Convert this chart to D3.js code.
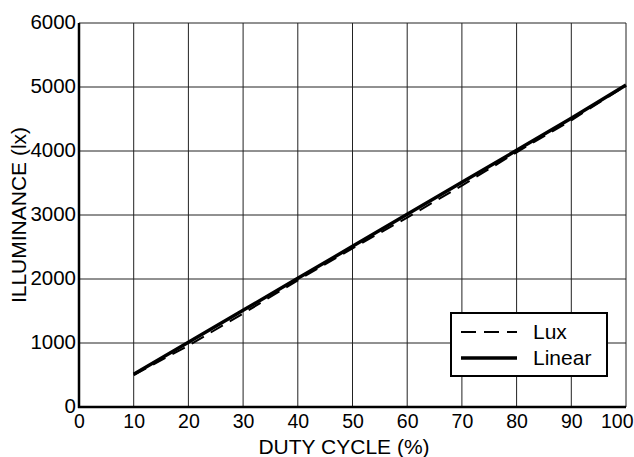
<!DOCTYPE html>
<html>
<head>
<meta charset="utf-8">
<script src="https://cdn.jsdelivr.net/npm/d3@7"></script>
<style>
  body { margin: 0; background: #fff; }
  text { font-family: "Liberation Sans", Arial, sans-serif; fill: #000; }
</style>
</head>
<body>
<script>
const dutyCycle = [10, 20, 30, 40, 50, 60, 70, 80, 90, 100]
const luxValues = [500, 960, 1460, 1980, 2480, 2960, 3460, 3980, 4480, 5020]
const linearValues = [510, 1010, 1510, 2010, 2510, 3010, 3510, 4010, 4510, 5030]
const xTicks = [0, 10, 20, 30, 40, 50, 60, 70, 80, 90, 100]
const yTicks = [0, 1000, 2000, 3000, 4000, 5000, 6000]

const margin = { top: 23, right: 8, bottom: 50, left: 79 }
const W = 634, H = 457
const width = W - margin.left - margin.right
const height = H - margin.top - margin.bottom

const svg = d3.select('body')
    .append('svg')
    .attr('width', W)
    .attr('height', H)
    .append('g')
    .attr('transform', `translate(${margin.left},${margin.top})`)

const x = d3.scaleLinear().domain([0, 100]).range([0, width])
const y = d3.scaleLinear().domain([0, 6000]).range([height, 0])

// grid
svg.append('g')
    .selectAll('line')
    .data(xTicks)
    .join('line')
    .attr('x1', d => x(d)).attr('x2', d => x(d))
    .attr('y1', 0).attr('y2', height)
    .attr('stroke', '#222').attr('stroke-width', 1)
svg.append('g')
    .selectAll('line')
    .data(yTicks)
    .join('line')
    .attr('x1', 0).attr('x2', width)
    .attr('y1', d => y(d)).attr('y2', d => y(d))
    .attr('stroke', '#222').attr('stroke-width', 1)

// axes (labels only, thick left/bottom lines)
const xAxis = svg.append('g')
    .attr('transform', `translate(0,${height})`)
    .call(d3.axisBottom(x).tickValues(xTicks).tickSize(0).tickPadding(7))
xAxis.select('.domain').remove()
xAxis.selectAll('text').style('font-size', '19.5px')
// last label hugs the right edge as in the original
xAxis.selectAll('.tick').filter(d => d === 100).select('text')
    .attr('text-anchor', 'end').attr('x', W - margin.left - x(100) - 1)

const yAxis = svg.append('g')
    .call(d3.axisLeft(y).tickValues(yTicks).tickSize(0).tickPadding(3).tickFormat(d3.format('d')))
yAxis.select('.domain').remove()
yAxis.selectAll('text').style('font-size', '20.5px').attr('dy', '0.25em')

svg.append('line')
    .attr('x1', 0).attr('x2', 0).attr('y1', 0).attr('y2', height + 1)
    .attr('stroke', '#000').attr('stroke-width', 2.5)
svg.append('line')
    .attr('x1', -1).attr('x2', width).attr('y1', height).attr('y2', height)
    .attr('stroke', '#000').attr('stroke-width', 2.5)

// lines
const lineGen = d3.line()
    .x((d, i) => x(dutyCycle[i]))
    .y(d => y(d))

svg.append('path')
    .datum(luxValues)
    .attr('d', lineGen)
    .attr('fill', 'none')
    .attr('stroke', '#000')
    .attr('stroke-width', 2)
    .attr('stroke-dasharray', '14,8')

svg.append('path')
    .datum(linearValues)
    .attr('d', lineGen)
    .attr('fill', 'none')
    .attr('stroke', '#000')
    .attr('stroke-width', 3.5)

// legend
const legend = svg.append('g')
    .attr('transform', `translate(${451 - margin.left},${313 - margin.top})`)
legend.append('rect')
    .attr('width', 156).attr('height', 63)
    .attr('fill', '#fff').attr('stroke', '#000').attr('stroke-width', 2)
legend.append('line')
    .attr('x1', 10).attr('x2', 66).attr('y1', 19).attr('y2', 19)
    .attr('stroke', '#000').attr('stroke-width', 2).attr('stroke-dasharray', '15,8')
legend.append('line')
    .attr('x1', 10).attr('x2', 66).attr('y1', 45).attr('y2', 45)
    .attr('stroke', '#000').attr('stroke-width', 3.5)
legend.append('text').attr('x', 82).attr('y', 26).style('font-size', '21px').text('Lux')
legend.append('text').attr('x', 82).attr('y', 52).style('font-size', '21px').text('Linear')

// axis titles
svg.append('text')
    .attr('x', 344 - margin.left).attr('y', 454 - margin.top)
    .attr('text-anchor', 'middle')
    .style('font-size', '21px')
    .text('DUTY CYCLE (%)')
svg.append('text')
    .attr('transform', `translate(${26 - margin.left},${215 - margin.top}) rotate(-90)`)
    .attr('text-anchor', 'middle')
    .style('font-size', '21px')
    .text('ILLUMINANCE (lx)')
</script>
</body>
</html>
